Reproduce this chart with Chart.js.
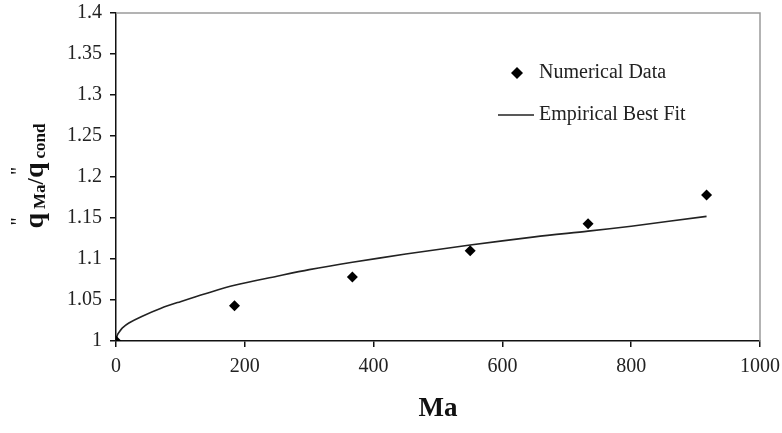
<!DOCTYPE html>
<html>
<head>
<meta charset="utf-8">
<script src="https://cdn.jsdelivr.net/npm/chart.js@4"></script>
<style>
  html, body { margin: 0; padding: 0; background: #fff; }
  #wrap { width: 782px; height: 433px; position: relative; }
</style>
</head>
<body>
<div id="wrap"><canvas id="chart"></canvas></div>
<script>
// 数値データ (Ma, q''Ma/q''cond)
const numMa = [0, 184, 367, 550, 733, 917];
const numRatio = [1.0, 1.043, 1.078, 1.110, 1.143, 1.178];

// 経験式の曲線
const fitMa = [0, 2, 5, 10, 20, 40, 70, 100, 140, 184, 250, 300, 367, 450, 550, 650, 733, 800, 917];
const fitRatio = [1.0, 1.007, 1.011, 1.016, 1.022, 1.030, 1.040, 1.048, 1.058, 1.068, 1.079, 1.087, 1.096, 1.106, 1.117, 1.127, 1.134, 1.140, 1.152];

const xTickLabels = ['0', '200', '400', '600', '800', '1000'];
const yTickLabels = ['1', '1.05', '1.1', '1.15', '1.2', '1.25', '1.3', '1.35', '1.4'];

const serif = "'Liberation Serif', 'Times New Roman', serif";

// 上と右の灰色の枠
const framePlugin = {
    id: 'frame',
    beforeDatasetsDraw(chart) {
        const { ctx, chartArea: a } = chart;
        ctx.save();
        ctx.strokeStyle = '#9a9a9a';
        ctx.lineWidth = 1.5;
        ctx.beginPath();
        ctx.moveTo(a.left, a.top);
        ctx.lineTo(a.right, a.top);
        ctx.lineTo(a.right, a.bottom);
        ctx.stroke();
        ctx.restore();
    }
};

// 縦軸タイトル (添字付き)
const yTitlePlugin = {
    id: 'yTitle',
    afterDraw(chart) {
        const ctx = chart.ctx;
        const parts = [
            { t: 'q', size: 28, dy: 0, quote: true },
            { t: ' ', size: 16, dy: 0 },
            { t: 'Ma', size: 17, dy: 2 },
            { t: '/', size: 23, dy: 0 },
            { t: 'q', size: 28, dy: 0, quote: true },
            { t: ' ', size: 16, dy: 0 },
            { t: 'cond', size: 17, dy: 2 }
        ];
        ctx.save();
        ctx.fillStyle = '#111';
        ctx.textBaseline = 'alphabetic';
        let total = 0;
        parts.forEach(p => {
            ctx.font = 'bold ' + p.size + 'px ' + serif;
            p.w = ctx.measureText(p.t).width;
            total += p.w;
        });
        ctx.translate(43, 176);
        ctx.rotate(-Math.PI / 2);
        let x = -total / 2;
        parts.forEach(p => {
            ctx.font = 'bold ' + p.size + 'px ' + serif;
            ctx.fillText(p.t, x, p.dy);
            if (p.quote) {
                ctx.font = '20px ' + serif;
                ctx.fillText('"', x + 3, -18);
            }
            x += p.w;
        });
        ctx.restore();
    }
};

// 凡例 (プロット内)
const legendPlugin = {
    id: 'innerLegend',
    afterDraw(chart) {
        const ctx = chart.ctx;
        const ds = chart.data.datasets;
        ctx.save();
        ctx.font = '20px ' + serif;
        ctx.textBaseline = 'middle';
        // 数値データ
        ctx.beginPath();
        ctx.moveTo(517, 67);
        ctx.lineTo(523, 73);
        ctx.lineTo(517, 79);
        ctx.lineTo(511, 73);
        ctx.closePath();
        ctx.fillStyle = '#000';
        ctx.fill();
        ctx.fillStyle = '#222';
        ctx.fillText(ds[0].label, 539, 73);
        // 経験式
        ctx.strokeStyle = '#222';
        ctx.lineWidth = 1.5;
        ctx.beginPath();
        ctx.moveTo(498, 115);
        ctx.lineTo(534, 115);
        ctx.stroke();
        ctx.fillText(ds[1].label, 539, 115);
        ctx.restore();
    }
};

const ctx = document.getElementById('chart').getContext('2d');
new Chart(ctx, {
    type: 'scatter',
    data: {
        datasets: [
            {
                label: 'Numerical Data',
                data: numMa.map((m, i) => ({ x: m, y: numRatio[i] })),
                pointStyle: 'rectRot',
                pointRadius: 5.5,
                backgroundColor: '#000',
                borderColor: '#000',
                borderWidth: 0,
                showLine: false,
                order: 0
            },
            {
                label: 'Empirical Best Fit',
                data: fitMa.map((m, i) => ({ x: m, y: fitRatio[i] })),
                showLine: true,
                borderColor: '#222',
                borderWidth: 1.6,
                pointRadius: 0,
                tension: 0.3,
                fill: false,
                order: 1
            }
        ]
    },
    options: {
        responsive: true,
        maintainAspectRatio: false,
        animation: false,
        layout: { padding: { left: 0, right: 22, top: 13, bottom: 0 } },
        plugins: {
            legend: { display: false },
            tooltip: { enabled: false }
        },
        scales: {
            x: {
                type: 'linear',
                min: 0,
                max: 1000,
                afterFit: s => {
                    s.height = 92;
                    s.paddingLeft = 0;
                    s.paddingRight = 0;
                },
                afterBuildTicks: s => {
                    s.ticks = xTickLabels.map(v => ({ value: Number(v) }));
                },
                border: { color: '#111', width: 1.5 },
                grid: { drawOnChartArea: false, drawTicks: true, tickLength: 6, color: '#111', lineWidth: 1.5 },
                ticks: {
                    color: '#222',
                    font: { family: serif, size: 20 },
                    padding: 8,
                    maxRotation: 0,
                    callback: (v, i) => xTickLabels[i]
                },
                title: {
                    display: true,
                    text: 'Ma',
                    color: '#111',
                    font: { family: serif, size: 27, weight: 'bold' },
                    padding: { top: 0, bottom: 8 }
                }
            },
            y: {
                min: 1,
                max: 1.4,
                afterFit: s => {
                    s.width = 116;
                    s.paddingTop = 0;
                    s.paddingBottom = 0;
                },
                afterBuildTicks: s => {
                    s.ticks = yTickLabels.map(v => ({ value: Number(v) }));
                },
                border: { color: '#111', width: 1.5 },
                grid: { drawOnChartArea: false, drawTicks: true, tickLength: 6, color: '#111', lineWidth: 1.5 },
                ticks: {
                    color: '#222',
                    font: { family: serif, size: 20 },
                    padding: 8,
                    callback: (v, i) => yTickLabels[i]
                }
            }
        }
    },
    plugins: [framePlugin, yTitlePlugin, legendPlugin]
});
</script>
</body>
</html>
